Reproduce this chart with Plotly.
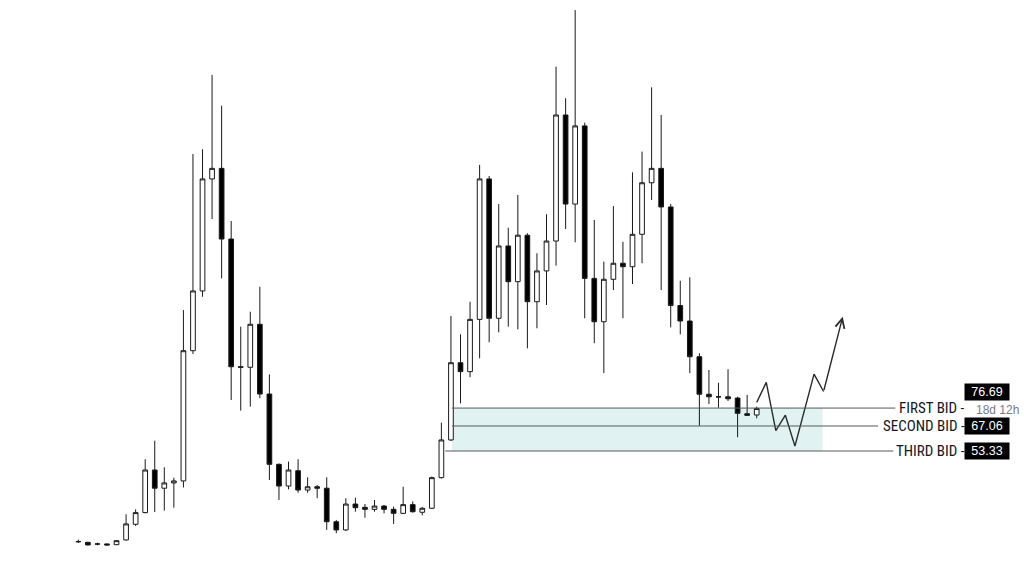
import plotly.graph_objects as go

# ---- monthly candles ----
opens = [3.5, 3.2, 2.2, 2.3, 1.9, 4.5, 13.1, 19.5, 42.9, 32.9, 35.8, 36.9,
         108.4, 141.2, 202.7, 208.5, 169.7, 99.6, 99.3, 122.9, 84.6, 46.0, 34.1, 42.5,
         31.9, 33.7, 32.9, 14.5, 10.0, 24.2, 22.4, 21.3, 23.1, 21.3, 19.1, 23.9,
         19.7, 21.9, 38.7, 59.4, 101.8, 96.9, 125.6, 202.7, 126.2, 165.9, 146.3, 171.8,
         135.3, 152.2, 168.6, 237.8, 188.9, 231.8, 148.1, 124.3, 147.6, 156.4, 154.5, 172.3,
         200.6, 208.5, 187.3, 133.2, 124.7, 105.1, 84.5, 83.1, 83.1, 82.4, 73.8, 73.1]
highs = [4.7, 3.4, 3.0, 2.55, 4.2, 18.6, 21.3, 48.8, 59.0, 44.4, 38.7, 130.7,
         216.4, 219.0, 259.8, 242.9, 179.6, 121.6, 129.8, 143.5, 95.4, 46.5, 47.5, 48.8,
         38.9, 34.7, 38.9, 15.5, 27.4, 27.7, 24.2, 26.4, 23.7, 22.8, 33.7, 25.7,
         22.6, 39.3, 68.9, 127.5, 117.4, 135.3, 210.4, 204.3, 188.9, 175.9, 193.9, 172.9,
         161.9, 183.3, 264.3, 247.0, 295.4, 233.6, 180.2, 157.3, 187.8, 168.2, 206.3, 217.7,
         253.0, 237.8, 188.9, 146.8, 148.7, 107.0, 97.8, 90.8, 98.2, 83.1, 84.1, 77.7]
lows = [2.8, 1.45, 1.55, 1.45, 1.7, 4.2, 12.2, 19.1, 19.8, 20.6, 22.2, 33.3,
        106.6, 138.0, 180.7, 148.1, 81.3, 75.5, 77.7, 82.3, 37.4, 26.4, 32.3, 30.4,
        30.4, 27.4, 10.0, 8.2, 9.4, 20.0, 16.7, 20.0, 19.1, 13.3, 18.7, 19.5,
        18.0, 21.5, 38.2, 58.8, 79.5, 93.8, 104.2, 113.0, 118.5, 121.6, 120.1, 109.7,
        120.7, 133.5, 155.1, 175.2, 167.9, 126.2, 112.5, 96.1, 141.7, 126.2, 145.0, 156.4,
        191.1, 141.7, 121.2, 117.4, 96.1, 67.2, 79.1, 77.1, 80.8, 60.9, 72.7, 71.3]
closes = [3.6, 1.75, 2.3, 1.75, 4.1, 13.3, 19.5, 42.9, 32.9, 35.8, 36.9, 108.4,
          141.2, 202.7, 208.5, 169.7, 99.6, 99.3, 122.9, 84.6, 46.0, 34.1, 42.9, 31.9,
          33.7, 32.9, 14.5, 10.0, 24.2, 22.2, 21.3, 23.1, 21.3, 19.1, 23.9, 20.0,
          21.9, 38.7, 59.4, 101.8, 96.9, 125.6, 202.7, 126.2, 165.9, 146.3, 171.8, 135.3,
          152.2, 168.6, 237.8, 188.9, 231.8, 148.1, 124.3, 147.6, 156.4, 154.5, 172.3, 200.6,
          208.5, 187.3, 133.2, 124.7, 105.1, 84.5, 83.1, 83.0, 82.0, 74.0, 72.9, 76.69]
idx = list(range(len(opens)))

# ---- bid levels ----
bid_names = ["FIRST BID", "SECOND BID", "THIRD BID"]
bid_prices = [76.9, 67.06, 53.33]
bid_labels = [None, "67.06", "53.33"]
last_price_label = "76.69"
countdown = "18d 12h"

# ---- projected path (bar index, price) ----
proj_x = [71, 72, 73, 74, 75, 77, 78]
proj_y = [80.0, 91.0, 64.5, 73.0, 56.0, 95.5, 86.0]
arrow_tip = (80.0, 127.0)

# zone
zone_x0, zone_x1 = 39.1, 77.9

W, H = 1024, 564
x_first_px, x_step_px = 78.3, 9.555
x0 = -x_first_px / x_step_px
x1 = x0 + W / x_step_px
y_top, y_per_px = 300.93, 0.549
yr = [y_top - y_per_px * H, y_top]

fig = go.Figure()
fig.add_trace(go.Candlestick(
    x=idx, open=opens, high=highs, low=lows, close=closes,
    increasing=dict(fillcolor="#ffffff", line=dict(color="#1a1a1a", width=1)),
    decreasing=dict(fillcolor="#000000", line=dict(color="#1a1a1a", width=1)),
    whiskerwidth=0, hoverinfo="skip", showlegend=False,
))

fig.add_trace(go.Scatter(
    x=proj_x, y=proj_y, mode="lines",
    line=dict(color="#2a2a2a", width=1.4), hoverinfo="skip", showlegend=False,
))

shapes = [dict(type="rect", xref="x", yref="y", x0=zone_x0, x1=zone_x1,
               y0=bid_prices[2], y1=bid_prices[0],
               fillcolor="#e0f2f1", line=dict(width=0), layer="below")]
line_starts = [39.1, 39.1, 38.4]
line_ends = [85.5, 83.7, 85.3]
for p, s, e in zip(bid_prices, line_starts, line_ends):
    shapes.append(dict(type="line", xref="x", yref="y", x0=s, x1=e, y0=p, y1=p,
                       line=dict(color="#5a5a5a", width=1), layer="above"))

label_font = "Liberation Sans Narrow, Roboto Condensed, DejaVu Sans Condensed, Liberation Sans, Arial"
annotations = []
for name, p in zip(bid_names, bid_prices):
    annotations.append(dict(text=name + " -", xref="paper", yref="y", x=967 / W, y=p,
                            xanchor="right", yanchor="middle", showarrow=False,
                            font=dict(family=label_font, size=15, color="#131722")))
for lab, p in zip(bid_labels, bid_prices):
    if lab:
        annotations.append(dict(text=lab, xref="paper", yref="y", x=987 / W, y=p,
                                xanchor="center", yanchor="middle", showarrow=False,
                                bgcolor="#000000", width=42, height=14, borderpad=1,
                                font=dict(family="Liberation Sans, Arial", size=12.5, color="#ffffff")))
annotations.append(dict(text=last_price_label, xref="paper", yref="paper", x=987 / W, y=1 - 392 / H,
                        xanchor="center", yanchor="middle", showarrow=False,
                        bgcolor="#000000", width=42, height=14, borderpad=1,
                        font=dict(family="Liberation Sans, Arial", size=12.5, color="#ffffff")))
annotations.append(dict(text=countdown, xref="paper", yref="paper", x=997 / W, y=1 - 409.5 / H,
                        xanchor="center", yanchor="middle", showarrow=False,
                        font=dict(family="Liberation Sans, Arial", size=12, color="#787b86")))
annotations.append(dict(x=arrow_tip[0], y=arrow_tip[1], xref="x", yref="y",
                        ax=proj_x[-1], ay=proj_y[-1], axref="x", ayref="y",
                        showarrow=True, arrowhead=5, arrowsize=1.3, arrowwidth=1.4,
                        arrowcolor="#2a2a2a", standoff=0, startstandoff=0, text=""))

fig.update_layout(
    width=W, height=H, margin=dict(l=0, r=0, t=0, b=0, pad=0),
    paper_bgcolor="#ffffff", plot_bgcolor="#ffffff",
    xaxis=dict(range=[x0, x1], visible=False, rangeslider=dict(visible=False), fixedrange=True),
    yaxis=dict(range=yr, visible=False, fixedrange=True),
    shapes=shapes, annotations=annotations, showlegend=False,
)

fig.write_html("out.html", config={"displayModeBar": False},
               post_script="document.body.style.margin='0';document.body.style.overflow='hidden';")
